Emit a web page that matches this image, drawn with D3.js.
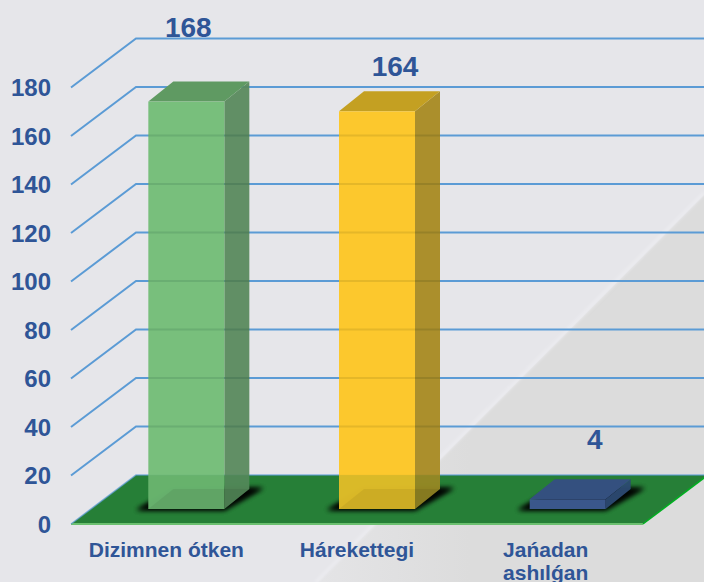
<!DOCTYPE html>
<html>
<head>
<meta charset="utf-8">
<script src="https://cdn.jsdelivr.net/npm/d3@7"></script>
<style>
  html, body { margin: 0; padding: 0; background: #e6e6ea; }
  svg { display: block; font-family: "Liberation Sans", Arial, sans-serif; font-weight: bold; }
</style>
</head>
<body>
<svg id="chart"></svg>
<script>
const categories = ['Dizimnen ótken', 'Hárekettegi', 'Jańadan ashılǵan']
const values = [168, 164, 4]
const yTicks = [0, 20, 40, 60, 80, 100, 120, 140, 160, 180]
const frontColors = ['#74bd78', '#fcc626', '#3c5a90']
const topColors = ['#5f9a62', '#c4a022', '#34507f']
const sideColors = ['#5a8a5e', '#a88a22', '#2c4a72']

const width = 704
const height = 582
const textColor = '#2f5597'
const gridColor = '#5b9bd5'
const floorColor = '#267f37'

// front edge of the floor, and how far the back wall is pushed
const x = d3.scaleBand().domain(categories).range([71, 643])
const y = d3.scaleLinear().domain([0, 180]).range([524, 87.5])
const wallDx = 65
const wallDy = -49
const barInsetDx = 20
const barInsetDy = -15
const barDx = 25
const barDy = -20
const barWidth = 76
// the value labels were placed by hand in the original
const labelDx = [2, 18, 27]
const labelDy = [-65, -35, -50]

let svg = d3.select('#chart')
  .attr('width', width)
  .attr('height', height)
  .attr('viewBox', [0, 0, width, height])

let poly = pts => pts.map(p => p.join(',')).join(' ')

let defs = svg.append('defs')
let blur = defs.append('filter').attr('id', 'soft').attr('x', '-30%').attr('y', '-50%').attr('width', '160%').attr('height', '200%')
blur.append('feGaussianBlur').attr('stdDeviation', 2.5)
let streak = defs.append('filter').attr('id', 'streak')
streak.append('feGaussianBlur').attr('stdDeviation', 1.8)
let wedge = defs.append('linearGradient').attr('id', 'wedge')
  .attr('gradientUnits', 'userSpaceOnUse')
  .attr('x1', 320).attr('y1', 0).attr('x2', 470).attr('y2', 0)
wedge.append('stop').attr('offset', 0).attr('stop-color', '#e4e4e6')
wedge.append('stop').attr('offset', 1).attr('stop-color', '#dcdcdc')

// background wedge
svg.append('polygon')
  .attr('points', poly([[704, 195], [704, 582], [318, 582]]))
  .attr('fill', 'url(#wedge)')
svg.append('line')
  .attr('x1', 704).attr('y1', 193)
  .attr('x2', 316).attr('y2', 582)
  .attr('stroke', '#ececf0')
  .attr('stroke-width', 3)
  .attr('filter', 'url(#streak)')

// floor
let floorLeft = x.range()[0]
let floorRight = x.range()[1]
let floorY = y(0)
svg.append('polygon')
  .attr('points', poly([[floorLeft, floorY], [floorLeft + wallDx, floorY + wallDy], [floorRight + wallDx, floorY + wallDy], [floorRight, floorY]]))
  .attr('fill', floorColor)
svg.append('line')
  .attr('x1', floorLeft).attr('y1', floorY)
  .attr('x2', floorRight).attr('y2', floorY)
  .attr('stroke', '#6cc070').attr('stroke-width', 2)
svg.append('line')
  .attr('x1', floorRight).attr('y1', floorY)
  .attr('x2', floorRight + wallDx).attr('y2', floorY + wallDy)
  .attr('stroke', '#00b020').attr('stroke-width', 1.5)

// gridlines with the slanted part on the side wall
let grid = svg.append('g')
  .attr('fill', 'none')
  .attr('stroke', gridColor)
  .attr('stroke-width', 2)
grid.selectAll('polyline')
  .data(yTicks.filter(d => d > 0))
  .enter()
  .append('polyline')
  .attr('points', d => poly([[floorLeft, y(d)], [floorLeft + wallDx, y(d) + wallDy], [width, y(d) + wallDy]]))
grid.append('polyline')
  .attr('points', poly([[floorLeft, floorY], [floorLeft + wallDx, floorY + wallDy], [width, floorY + wallDy]]))
  .attr('stroke-width', 1.5)
  .attr('opacity', 0.7)

// bars
let bars = svg.selectAll('.bar')
  .data(categories.map((name, i) => ({ name, value: values[i], i })))
  .enter()
  .append('g')
  .attr('class', 'bar')

let barLeft = d => x(d.name) + x.bandwidth() / 2 + barInsetDx - barWidth / 2
let barBase = y(0) + barInsetDy
let barTop = d => barBase - (y(0) - y(d.value))

// drawn twice so the shadow is close to black next to the bar
d3.range(2).forEach(() => {
  bars.append('polygon')
    .attr('points', d => {
      let l = barLeft(d)
      return poly([[l - 12, barBase + 1], [l + barWidth, barBase + 1], [l + barWidth + barDx + 14, barBase + barDy - 1], [l + barDx, barBase + barDy]])
    })
    .attr('fill', '#000')
    .attr('opacity', 0.85)
    .attr('filter', 'url(#soft)')
})

bars.append('polygon')
  .attr('points', d => {
    let l = barLeft(d)
    return poly([[l + barWidth, barTop(d)], [l + barWidth + barDx, barTop(d) + barDy], [l + barWidth + barDx, barBase + barDy], [l + barWidth, barBase]])
  })
  .attr('fill', d => sideColors[d.i])
  .attr('fill-opacity', 0.95)

bars.append('polygon')
  .attr('points', d => {
    let l = barLeft(d)
    return poly([[l, barTop(d)], [l + barDx, barTop(d) + barDy], [l + barWidth + barDx, barTop(d) + barDy], [l + barWidth, barTop(d)]])
  })
  .attr('fill', d => topColors[d.i])

bars.append('rect')
  .attr('x', barLeft)
  .attr('y', barTop)
  .attr('width', barWidth)
  .attr('height', d => barBase - barTop(d))
  .attr('fill', d => frontColors[d.i])
  .attr('fill-opacity', 0.97)

// gridlines showing through the bars
bars.filter(d => d.value > 20).each(function (d) {
  let l = barLeft(d)
  d3.select(this).selectAll('line')
    .data(yTicks.filter(t => t > 0 && y(t) + wallDy > barTop(d)))
    .enter()
    .append('line')
    .attr('x1', l).attr('x2', l + barWidth + barDx)
    .attr('y1', t => y(t) + wallDy).attr('y2', t => y(t) + wallDy)
    .attr('stroke', '#000')
    .attr('stroke-opacity', 0.07)
    .attr('stroke-width', 2)
})

// floor seen through the bottom of the tall bars
bars.filter(d => d.value > 20).append('rect')
  .attr('x', barLeft)
  .attr('y', floorY + wallDy)
  .attr('width', barWidth + barDx)
  .attr('height', barBase - (floorY + wallDy))
  .attr('fill', floorColor)
  .attr('opacity', 0.13)
  .attr('clip-path', d => {
    let l = barLeft(d)
    return `polygon(0 0, 100% 0, 100% ${barBase + barDy - (floorY + wallDy)}px, ${barWidth}px 100%, 0 100%)`
  })
bars.filter(d => d.value > 20).append('polygon')
  .attr('points', d => {
    let l = barLeft(d)
    return poly([[l, barBase], [l + barDx, barBase + barDy], [l + barWidth + barDx, barBase + barDy], [l + barWidth, barBase]])
  })
  .attr('fill', '#000')
  .attr('opacity', 0.06)

// value labels
svg.append('g').selectAll('text')
  .data(categories.map((name, i) => ({ name, value: values[i], i })))
  .enter()
  .append('text')
  .attr('x', d => barLeft(d) + barWidth / 2 + labelDx[d.i])
  .attr('y', d => barTop(d) + labelDy[d.i])
  .attr('text-anchor', 'middle')
  .attr('font-size', 28)
  .attr('fill', textColor)
  .text(d => d.value)

// y axis labels
svg.append('g').selectAll('text')
  .data(yTicks)
  .enter()
  .append('text')
  .attr('x', 51)
  .attr('y', d => y(d) + 8.5)
  .attr('text-anchor', 'end')
  .attr('font-size', 24)
  .attr('fill', textColor)
  .text(d => d)

// category labels, the last one wraps
let labels = svg.append('g').selectAll('text')
  .data(categories)
  .enter()
  .append('text')
  .attr('y', 556.5)
  .attr('text-anchor', 'middle')
  .attr('font-size', 21)
  .attr('fill', textColor)

labels.each(function (d) {
  let words = d.startsWith('Jańadan') ? d.split(' ') : [d]
  d3.select(this).selectAll('tspan')
    .data(words)
    .enter()
    .append('tspan')
    .attr('x', x(d) + x.bandwidth() / 2 - (words.length > 1 ? 2 : 0))
    .attr('dy', (w, i) => i ? 23 : 0)
    .text(w => w)
})
</script>
</body>
</html>
